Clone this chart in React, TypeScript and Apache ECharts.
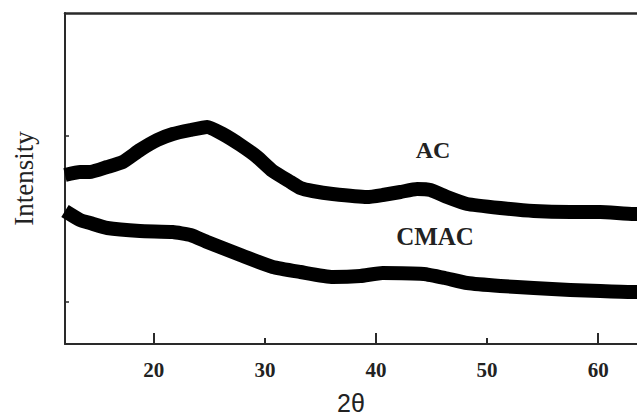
import React, { useEffect, useRef } from "react";
import * as echarts from "echarts";

// 2θ (degrees) and intensity (a.u.)
const acTheta = [12.0, 13.35, 14.25, 15.8, 17.2, 18.75, 20.3, 21.7, 23.3, 24.8, 26.2, 27.8, 29.3, 30.7, 32.3, 33.2, 34.3, 36.1, 39.2, 40.6, 42.2, 43.7, 44.9, 46.4, 48.2, 51.2, 54.2, 57.5, 60.2, 63.2, 63.5];
const acValues = [169, 172, 172, 177, 182, 194, 204, 210, 214, 217, 210, 199, 187, 173, 162, 156, 153, 150, 147, 149, 152, 155, 154, 147, 140, 136, 133, 132, 132, 130, 130];

const cmacTheta = [12.0, 13.35, 14.25, 15.8, 18.75, 21.7, 23.3, 24.8, 27.8, 30.7, 33.2, 36.1, 38.6, 40.6, 44.3, 46.2, 48.2, 51.2, 54.2, 57.5, 60.2, 63.2, 63.5];
const cmacValues = [133, 124, 121, 116, 113, 112, 109, 102, 89, 77, 72, 67, 68, 71, 70, 66, 61, 58, 56, 54, 53, 52, 52];

const xTickLabels = [20, 30, 40, 50, 60];
const xLongTicks = [20, 40, 60];
const yTicks = [42, 208];
const seriesNames = ["AC", "CMAC"];

const X_MIN = 12;
const X_MAX = 63.5;
const Y_MIN = 0;
const Y_MAX = 331;

export default function App() {
  const ref = useRef<HTMLDivElement>(null);

  useEffect(() => {
    if (!ref.current) return;
    const chart = echarts.init(ref.current, undefined, { renderer: "svg" });
    const axisColor = "#2a2a2a";
    const serif = "'Liberation Serif', 'Times New Roman', serif";
    chart.setOption({
      animation: false,
      backgroundColor: "#ffffff",
      grid: { left: 65, right: 0, top: 13, bottom: 75, containLabel: false, outerBoundsMode: "none" },
      xAxis: [
        {
          type: "value",
          min: X_MIN,
          max: X_MAX,
          position: "bottom",
          name: "2θ",
          nameLocation: "middle",
          nameGap: 46,
          nameTextStyle: { fontFamily: "'Liberation Sans', Arial, sans-serif", fontSize: 25, color: "#222" },
          axisLine: { show: true, lineStyle: { color: axisColor, width: 2 } },
          axisTick: { show: true, inside: true, length: 6, customValues: xTickLabels, lineStyle: { color: axisColor, width: 2 } },
          axisLabel: { show: true, customValues: xTickLabels, margin: 15, fontFamily: serif, fontWeight: "bold", fontSize: 21, color: "#222" },
          splitLine: { show: false },
        },
        {
          type: "value",
          min: X_MIN,
          max: X_MAX,
          position: "bottom",
          offset: 0,
          axisLine: { show: false },
          axisTick: { show: true, inside: true, length: 11, customValues: xLongTicks, lineStyle: { color: axisColor, width: 2 } },
          axisLabel: { show: false },
          splitLine: { show: false },
        },
        {
          type: "value",
          min: X_MIN,
          max: X_MAX,
          position: "top",
          axisLine: { show: true, lineStyle: { color: axisColor, width: 2.5 } },
          axisTick: { show: false },
          axisLabel: { show: false },
          splitLine: { show: false },
        },
      ],
      yAxis: {
        type: "value",
        min: Y_MIN,
        max: Y_MAX,
        name: "Intensity",
        nameLocation: "middle",
        nameRotate: 90,
        nameGap: 28,
        nameTextStyle: { fontFamily: serif, fontSize: 27, color: "#222" },
        axisLine: { show: true, lineStyle: { color: axisColor, width: 2 } },
        axisTick: { show: true, inside: true, length: 4, customValues: yTicks, lineStyle: { color: axisColor, width: 1.5 } },
        axisLabel: { show: false },
        splitLine: { show: false },
      },
      graphic: [
        {
          type: "text",
          x: 433,
          y: 150,
          style: { text: seriesNames[0], font: `bold 24px ${serif}`, fill: "#222", align: "center", verticalAlign: "middle" },
        },
        {
          type: "text",
          x: 435,
          y: 236,
          style: { text: seriesNames[1], font: `bold 25px ${serif}`, fill: "#222", align: "center", verticalAlign: "middle" },
        },
      ],
      series: [
        {
          name: seriesNames[0],
          type: "line",
          xAxisIndex: 0,
          data: acTheta.map((t, i) => [t, acValues[i]]),
          showSymbol: false,
          smooth: 0.15,
          lineStyle: { color: "#000", width: 14, cap: "butt", join: "round" },
        },
        {
          name: seriesNames[1],
          type: "line",
          xAxisIndex: 0,
          data: cmacTheta.map((t, i) => [t, cmacValues[i]]),
          showSymbol: false,
          smooth: 0.15,
          lineStyle: { color: "#000", width: 14, cap: "butt", join: "round" },
        },
      ],
    });
    return () => chart.dispose();
  }, []);

  return <div ref={ref} style={{ position: "absolute", left: 0, top: 0, width: 637, height: 419 }} />;
}
